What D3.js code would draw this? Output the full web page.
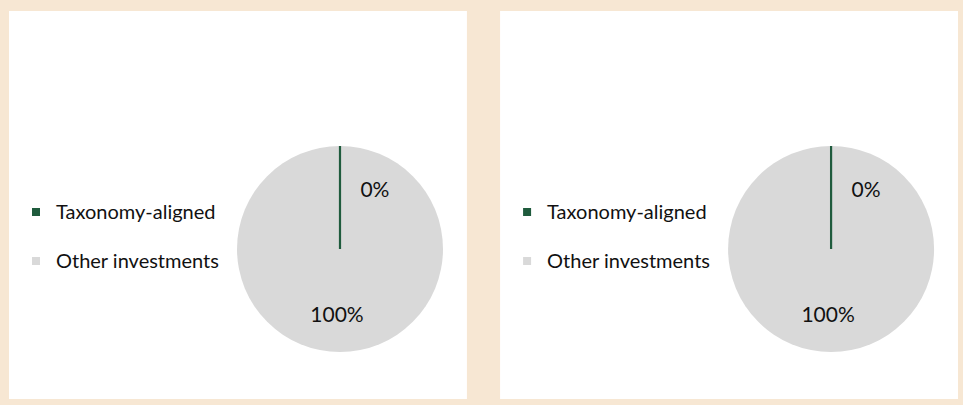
<!DOCTYPE html>
<html>
<head>
	<meta charset="utf-8">
	<title>Taxonomy alignment</title>
	<style>
		html, body { margin: 0; padding: 0; background: #f7e7d3; }
		svg { display: block; }
		text { font-family: Lato, "Liberation Sans", sans-serif; fill: #111; }
	</style>
</head>
<body>
	<script src="https://d3js.org/d3.v7.min.js"></script>

<script>

	// data
	var categories = ["Taxonomy-aligned", "Other investments"];
	var chart1Values = [0, 100];
	var chart2Values = [0, 100];
	var seriesColors = ["#1f5b3d", "#d9d9d9"];

	var width = 963,
		height = 405,
		panelTop = 11,
		panelHeight = 388,
		panelWidth = 459,
		radius = 103;

	var charts = [chart1Values, chart2Values];

	var svg = d3.select("body")
		.append("svg")
		.attr("width", width)
		.attr("height", height);

	svg.append("rect")
		.attr("width", width)
		.attr("height", height)
		.attr("fill", "#f7e7d3");

	// panels side by side
	var xPanel = d3.scaleBand()
		.domain(d3.range(charts.length))
		.range([9, 958])
		.paddingInner(31 / panelWidth);

	var color = d3.scaleOrdinal()
		.domain(categories)
		.range(seriesColors);

	var legendY = d3.scalePoint()
		.domain(categories)
		.range([212, 261]);

	var pie = d3.pie().sort(null).value(function (d) { return d.value; });
	var arc = d3.arc().innerRadius(0).outerRadius(radius);
	var labelArc = d3.arc().innerRadius(65).outerRadius(65);

	charts.forEach(function (values, i) {
		var g = svg.append("g")
			.attr("transform", "translate(" + xPanel(i) + "," + panelTop + ")");

		g.append("rect")
			.attr("width", xPanel.bandwidth())
			.attr("height", panelHeight)
			.attr("fill", "#fff");

		// legend
		var leg = g.selectAll(".legend")
			.data(categories)
			.enter().append("g")
			.attr("transform", function (d) { return "translate(23," + (legendY(d) - panelTop) + ")"; });

		leg.append("rect")
			.attr("x", 0)
			.attr("y", -4)
			.attr("width", 8)
			.attr("height", 8)
			.attr("fill", function (d) { return color(d); });

		leg.append("text")
			.attr("x", 24)
			.attr("y", 7)
			.style("font-size", "20px")
			.text(function (d) { return d; });

		// pie
		var data = categories.map(function (c, j) { return { name: c, value: values[j] }; });
		var arcs = pie(data);

		var p = g.append("g")
			.attr("transform", "translate(331," + (249 - panelTop) + ")");

		// big slices first, zero slices drawn as a line on top
		p.selectAll("path")
			.data(arcs.slice().sort(function (a, b) { return b.value - a.value; }))
			.enter().append("path")
			.attr("d", arc)
			.attr("fill", function (d) { return color(d.data.name); })
			.attr("stroke", function (d) { return d.value === 0 ? color(d.data.name) : "none"; })
			.attr("stroke-width", 2.2);

		p.selectAll("text")
			.data(arcs)
			.enter().append("text")
			.attr("transform", function (d) {
				var c;
				if (d.value === 0) {
					// nudge the label off the zero-width slice
					var a = d.startAngle + 0.53;
					c = [Math.sin(a) * 69, -Math.cos(a) * 69];
				} else {
					c = labelArc.centroid(d);
					c[0] -= 3;
				}
				return "translate(" + c[0] + "," + c[1] + ")";
			})
			.attr("text-anchor", "middle")
			.attr("dy", "0.36em")
			.style("font-size", "21px")
			.text(function (d) { return d3.format(".0f")(d.value) + "%"; });
	});

</script>
</body>
</html>
